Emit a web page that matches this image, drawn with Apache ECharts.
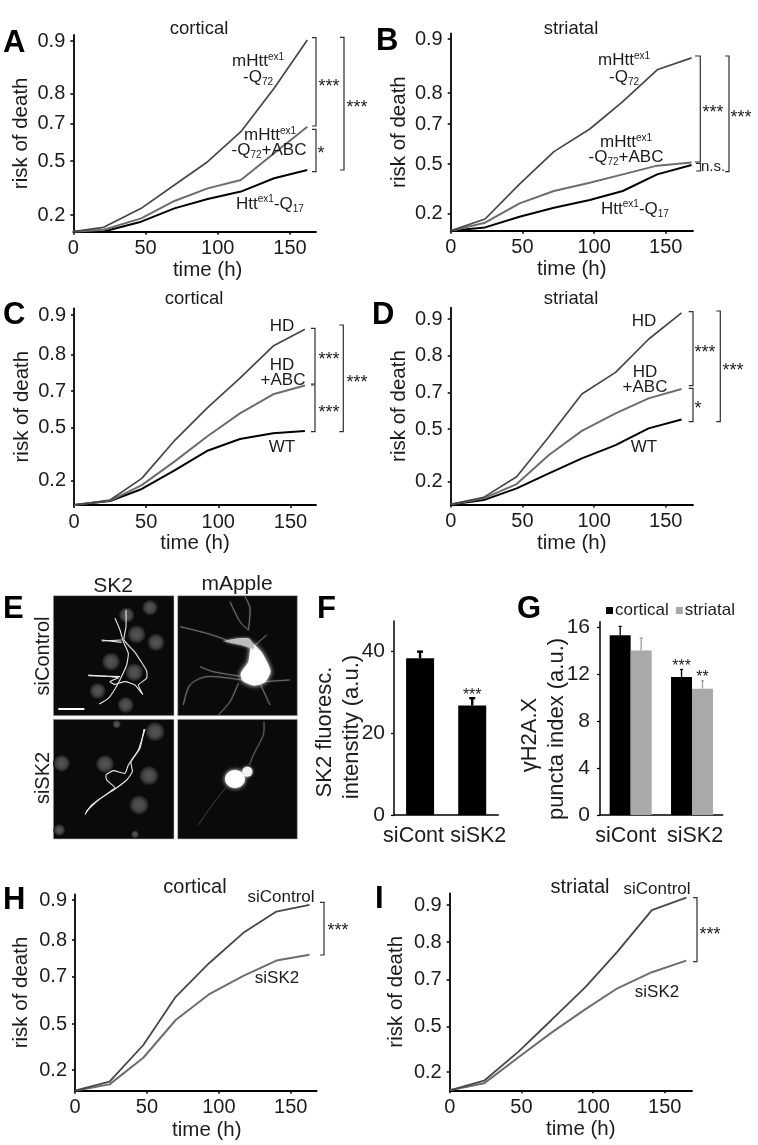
<!DOCTYPE html>
<html><head><meta charset="utf-8">
<script src="https://cdn.jsdelivr.net/npm/echarts@6/dist/echarts.min.js"></script>
<style>html,body{margin:0;padding:0;background:#fff}#c{width:758px;height:1145px}</style>
</head><body><div id="c"></div>
<script>
// ---------- data (risk of death vs time) ----------
const riskTicks = [0.2, 0.5, 0.7, 0.8, 0.9];
const timeTicks = [0, 50, 100, 150];

const timeA = [0, 21, 47, 70, 93, 116, 139, 162];
const a_Q72 = [0, .052, .237, .367, .496, .656, .81, .902];
const a_ABC = [0, .024, .16, .278, .348, .394, .541, .682];
const a_Q17 = [0, .002, .12, .237, .289, .33, .404, .45];

const timeB = [0, 24, 48, 72, 97, 120, 144, 168];
const b_Q72 = [0, .135, .378, .562, .675, .772, .843, .865];
const b_ABC = [0, .092, .261, .336, .386, .437, .49, .508];
const b_Q17 = [0, .038, .162, .234, .281, .336, .437, .494];

const timeC = [0, 25, 47, 70, 92, 115, 138, 160];
const c_HD  = [0, .041, .213, .43, .605, .735, .821, .864];
const c_ABC = [0, .036, .164, .311, .449, .578, .682, .715];
const c_WT  = [0, .033, .132, .26, .368, .436, .468, .481];

const timeD = [0, 23, 46, 68.5, 91.5, 115, 138, 161];
const d_HD  = [0, .062, .228, .456, .693, .755, .845, .917];
const d_ABC = [0, .053, .179, .352, .49, .586, .669, .71];
const d_WT  = [0, .038, .141, .247, .333, .409, .504, .553];

const timeH = [0, 24, 47.5, 70, 93, 117, 140, 163];
const h_ctrl = [0, .087, .363, .615, .736, .818, .871, .888];
const h_sk2  = [0, .061, .28, .517, .625, .702, .744, .76];

const timeI = [0, 24, 48, 71, 95, 117, 141, 165];
const i_ctrl = [0, .105, .335, .528, .669, .774, .886, .92];
const i_sk2  = [0, .076, .297, .46, .575, .662, .719, .75];

const barCats = ['siCont', 'siSK2'];
const f_vals = [38.4, 26.8];
const f_errTop = [40, 28.6];
const f_sig = ['', '***'];
const g_cort = [15.3, 11.75];
const g_cortTop = [16.05, 12.38];
const g_cortSig = ['', '***'];
const g_str = [14.0, 10.75];
const g_strTop = [15.07, 11.42];
const g_strSig = ['', '**'];

// ---------- layout ----------
const FONT = '"Liberation Sans", Arial, sans-serif';
const INK = '#1c1c1c', DARK = '#474747', MID = '#6d6d6d', BLACK = '#000';
// scalePos: axis scale position of each risk tick (the risk axis is non-linear and differs by panel)
const panels = [
 {left:73.3, top:35,  w:242.7, h:196.7, xMax:168, scalePos:[16.7,70.7,108.3,138.3,190.7], title:'cortical', tx:194, ty:24, tf:18.5, xPad:26, xGap:25, yGap:41,
  t:timeA, lines:[['Q17',a_Q17,BLACK,2],['ABC',a_ABC,MID,2],['Q72',a_Q72,DARK,1.7]]},
 {left:450.7,top:33.5,w:242.3,h:197.2, xMax:169, scalePos:[17.3,66.7,106.7,137.7,191.7], title:'striatal', tx:566, ty:24, tf:18.5, xPad:0, xGap:24, yGap:41,
  t:timeB, lines:[['Q17',b_Q17,BLACK,2],['ABC',b_ABC,MID,2],['Q72',b_Q72,DARK,1.7]]},
 {left:74,   top:308.3,w:242,  h:196.7, xMax:167.7,scalePos:[24.3,77.3,114,150.7,190], title:'cortical', tx:189, ty:294, tf:18.5, xPad:0, xGap:28, yGap:41,
  t:timeC, lines:[['WT',c_WT,BLACK,2],['ABC',c_ABC,MID,2],['HD',c_HD,DARK,1.7]]},
 {left:450.7,top:307.7,w:242.3,h:196.7,xMax:169, scalePos:[22.7,75.3,111.7,148.7,185.3], title:'striatal', tx:566, ty:294, tf:18.5, xPad:0, xGap:28, yGap:41,
  t:timeD, lines:[['WT',d_WT,BLACK,2],['ABC',d_ABC,MID,2],['HD',d_HD,DARK,1.7]]},
 {left:75,   top:894.3,w:241.7,h:196.4,xMax:168, scalePos:[20.7,66.7,114,150.7,190.7], title:'cortical', tx:190, ty:882, tf:20, xPad:22, xGap:29, yGap:43,
  t:timeH, lines:[['sk2',h_sk2,MID,2],['ctrl',h_ctrl,DARK,1.8]]},
 {left:449.7,top:893.3,w:242.3,h:197, xMax:169, scalePos:[18.3,63.7,111,148.3,185.3], title:'striatal', tx:575, ty:882, tf:20, xPad:20, xGap:29, yGap:43,
  t:timeI, lines:[['sk2',i_sk2,MID,2],['ctrl',i_ctrl,DARK,1.8]]}
];

function toScale(r, pos){
  const rs=[0].concat(riskTicks), ps=[0].concat(pos);
  for(let k=1;k<rs.length;k++){ if(r<=rs[k]) return ps[k-1]+(r-rs[k-1])/(rs[k]-rs[k-1])*(ps[k]-ps[k-1]); }
  const n=rs.length-1; return ps[n]+(r-rs[n])/(rs[n]-rs[n-1])*(ps[n]-ps[n-1]);
}

const axisLine = w => ({show:true,onZero:false,lineStyle:{color:'#000',width:w}});
const grid=[],xAxis=[],yAxis=[],series=[],title=[];

panels.forEach((p,i)=>{
  grid.push({left:p.left,top:p.top,width:p.w,height:p.h});
  xAxis.push({gridIndex:i,type:'value',min:0,max:p.xMax,splitLine:{show:false},axisLine:axisLine(1.8),
    axisTick:{show:true,length:3,customValues:timeTicks,lineStyle:{color:'#000',width:1.5}},
    axisLabel:{customValues:timeTicks,fontFamily:FONT,fontSize:20,color:INK,margin:7},
    name:'time (h)',nameLocation:'middle',nameGap:p.xGap,
    nameTextStyle:{fontFamily:FONT,fontSize:20.5,color:INK,padding:[0,0,0,p.xPad]}});
  yAxis.push({gridIndex:i,type:'value',min:0,max:p.h,splitLine:{show:false},axisLine:axisLine(1.8),
    axisTick:{show:true,length:3,customValues:p.scalePos,lineStyle:{color:'#000',width:1.5}},
    axisLabel:{customValues:p.scalePos,fontFamily:FONT,fontSize:20,color:INK,margin:8,
      formatter:v=>{const k=p.scalePos.indexOf(v);return k>=0?riskTicks[k].toFixed(1):'';}},
    name:'risk of death',nameLocation:'middle',nameGap:p.yGap,
    nameTextStyle:{fontFamily:FONT,fontSize:20.5,color:INK}});
  p.lines.forEach(l=>series.push({type:'line',name:p.title+l[0],xAxisIndex:i,yAxisIndex:i,showSymbol:false,silent:true,
    data:p.t.map((t,k)=>[t,toScale(l[1][k],p.scalePos)]),lineStyle:{color:l[2],width:l[3]},itemStyle:{color:l[2]}}));
  title.push({text:p.title,left:p.tx,top:p.ty,textAlign:'center',textVerticalAlign:'middle',
    textStyle:{fontFamily:FONT,fontSize:p.tf,fontWeight:'normal',color:INK}});
});

// bar panels F and G
const iF=panels.length, iG=iF+1;
grid.push({left:394,top:621,width:104.3,height:194},{left:600,top:621.7,width:122.7,height:193.3});
[[iF,[{pr:13,pl:0},{pr:0,pl:12}]],[iG,[{pr:10,pl:0},{pr:0,pl:6}]]].forEach(([ix,pads])=>{
  xAxis.push({gridIndex:ix,type:'category',data:barCats,axisLine:axisLine(1.5),axisTick:{show:false},
    axisLabel:{interval:0,margin:10,formatter:(v,k)=>`{${k?'b':'a'}|${v}}`,
      rich:{a:{fontFamily:FONT,fontSize:21.5,color:INK,padding:[0,pads[0].pr,0,0]},
            b:{fontFamily:FONT,fontSize:21.5,color:INK,padding:[0,0,0,pads[1].pl]}}}});
});
yAxis.push({gridIndex:iF,type:'value',min:0,max:47.5,splitLine:{show:false},axisLine:axisLine(1.5),
  axisTick:{show:true,length:3,customValues:[0,20,40],lineStyle:{color:'#000',width:1.2}},
  axisLabel:{customValues:[0,20,40],fontFamily:FONT,fontSize:21,color:INK,margin:9}});
yAxis.push({gridIndex:iG,type:'value',min:0,max:16.45,splitLine:{show:false},axisLine:axisLine(1.5),
  axisTick:{show:true,length:3,customValues:[0,4,8,12,16],lineStyle:{color:'#000',width:1.2}},
  axisLabel:{customValues:[0,4,8,12,16],fontFamily:FONT,fontSize:21,color:INK,margin:10}});

function errSeries(ix,name,vals,tops,sig,dx,color,stem,cap){
  return {type:'custom',name:name+' err',xAxisIndex:ix,yAxisIndex:ix,silent:true,z:1,
    data:vals.map((v,k)=>[k,v,tops[k],sig[k]]),encode:{x:0,y:[1,2]},
    renderItem:(params,api)=>{
      const c=api.coord([api.value(0),api.value(1)]), t=api.coord([api.value(0),api.value(2)]);
      const x=c[0]+dx, st={stroke:color,lineWidth:stem};
      const s=sig[params.dataIndex];
      const kids=[{type:'line',shape:{x1:x,y1:c[1],x2:x,y2:t[1]},style:st},
        {type:'line',shape:{x1:x-cap,y1:t[1],x2:x+cap,y2:t[1]},style:st}];
      if(s) kids.push({type:'text',x:x,y:t[1]+5,style:{text:s,font:'16px '+FONT,fill:INK,align:'center',verticalAlign:'bottom'}});
      return {type:'group',children:kids};
    }};
}
series.push({type:'bar',name:'SK2',xAxisIndex:iF,yAxisIndex:iF,data:f_vals,barWidth:28,itemStyle:{color:'#000'},silent:true});
series.push(errSeries(iF,'SK2',f_vals,f_errTop,f_sig,0,'#000',2.4,3));
series.push({type:'bar',name:'cortical',xAxisIndex:iG,yAxisIndex:iG,data:g_cort,barWidth:21,barGap:'0%',itemStyle:{color:'#000'},silent:true});
series.push({type:'bar',name:'striatal',xAxisIndex:iG,yAxisIndex:iG,data:g_str,barWidth:21,barGap:'0%',itemStyle:{color:'#a9a9a9'},silent:true});
series.push(errSeries(iG,'cortical',g_cort,g_cortTop,g_cortSig,-10.5,'#000',1.3,1.5));
series.push(errSeries(iG,'striatal',g_str,g_strTop,g_strSig,10.5,'#a0a0a0',1.3,1.5));

// ---------- annotations ----------
const g=[];
const RICH={sup:{fontFamily:FONT,fontSize:10,fill:INK,color:INK,verticalAlign:'top',lineHeight:17},
            sub:{fontFamily:FONT,fontSize:10,fill:INK,color:INK,verticalAlign:'bottom',lineHeight:20}};
function txt(s,x,y,size,opt){opt=opt||{};
  g.push({type:'text',x:x,y:y,rotation:opt.rot||0,z:10,silent:true,style:{text:s,font:(opt.weight||'')+' '+size+'px '+FONT,
    fill:opt.fill||INK,align:opt.align||'center',verticalAlign:opt.va||'middle',rich:RICH}});}
const labels=[
 ['mHtt{sup|ex1}',258,61],['-Q{sub|72}',258,77],['mHtt{sup|ex1}',270,135],['-Q{sub|72}+ABC',269,150],['Htt{sup|ex1}-Q{sub|17}',270,204],
 ['mHtt{sup|ex1}',624,60],['-Q{sub|72}',624,77],['mHtt{sup|ex1}',626,142],['-Q{sub|72}+ABC',626,157],['Htt{sup|ex1}-Q{sub|17}',635,209],
 ['HD',282,326],['HD',282,365],['+ABC',283,380],['WT',282,447],
 ['HD',644,321],['HD',645,372],['+ABC',645,387],['WT',644,447],
 ['siControl',281,897],['siSK2',277,978],['siControl',657,889],['siSK2',657,992]];
labels.forEach(l=>txt(l[0],l[1],l[2],17));

// brackets: [x foot, x spine, y top, y bottom] in page px
const brackets=[[312,316,37.7,126],[312,316,129.3,171.7],[340,344,37.3,170],
 [695,700.3,56,162],[696,700.5,163.3,171],[725,729,56,171.7],
 [311,315,328.3,384],[311,315,385,431.7],[339.3,343.3,325,431.7],
 [688.7,693,311.7,385.7],[688.7,693,388.3,421.7],[716.3,720.3,311,421.7],
 [320,324,902.3,955],[693,697,897.7,961.7]];
brackets.forEach(b=>g.push({type:'polyline',silent:true,z:9,shape:{points:[[b[0],b[2]],[b[1],b[2]],[b[1],b[3]],[b[0],b[3]]]},style:{stroke:'#2e2e2e',lineWidth:1.2,fill:null}}));
const stars=[['***',329,83],['*',321,150],['***',357,104],['***',713,109],['***',741,114],
 ['***',329,356],['***',329,409],['***',357,379],['***',705,349],['*',698,405],['***',733,367],
 ['***',338,927],['***',710,931]];
stars.forEach(s=>txt(s[0],s[1],s[2]+4.5,18));
txt('n.s.',713,166.5,15);

// panel letters
[['A',3,28],['B',376,26],['C',3,300],['D',372,300],['E',3,594],['F',317,594],['G',517,594],['H',3,885],['I',375,884]]
 .forEach(l=>txt(l[0],l[1],l[2],31,{weight:'bold',fill:'#000',align:'left',va:'alphabetic'}));

// F / G y titles
txt('SK2 fluoresc.',325,732,22,{rot:Math.PI/2});
txt('intenstity (a.u.)',352,727,22,{rot:Math.PI/2});
txt('γH2A.X',530,735,22,{rot:Math.PI/2});
txt('puncta index (a.u.)',557,729,22,{rot:Math.PI/2});

// panel E : micrographs sketched with graphic shapes
const Z=(x,y)=>[x/3,565+y/3];
[[160,92,522,452],[533,92,892,452],[160,463,522,822],[533,463,892,822]].forEach(r=>{
  const a=Z(r[0],r[1]),b=Z(r[2],r[3]);
  g.push({type:'rect',silent:true,z:1,shape:{x:a[0],y:a[1],width:b[0]-a[0],height:b[1]-a[1]},style:{fill:'#0a0a0a',stroke:'#bbb',lineWidth:.6}});
});
const nuclei=[[450,128,24],[380,150,24],[410,208,28],[468,232,27],[333,290,28],[403,322,28],[293,378,25],[377,420,25],
 [465,500,30],[315,597,28],[447,632,30],[417,720,30],[185,595,26],[178,795,18],[350,478,13],[405,808,12]];
nuclei.forEach(n=>{const c=Z(n[0],n[1]);
  g.push({type:'circle',silent:true,z:2,shape:{cx:c[0],cy:c[1],r:n[2]/3},style:{fill:new echarts.graphic.RadialGradient(.5,.5,.5,
    [{offset:0,color:'#575757'},{offset:.55,color:'#474747'},{offset:.85,color:'#262626'},{offset:1,color:'#0a0a0a'}])}});});
const pl=(pts,color,w,blur,smooth)=>g.push({type:'polyline',silent:true,z:3,shape:{points:pts.map(p=>Z(p[0],p[1])),smooth:smooth||0},
  style:{stroke:color,lineWidth:w,fill:null,shadowBlur:blur||0,shadowColor:color}});
const outline=[
 [[298,417],[325,400],[345,372],[362,340],[380,300],[385,265],[370,230],[360,195],[345,160]],
 [[378,135],[378,185],[372,225],[405,262],[440,318],[440,340],[415,360],[428,388],[405,360],[375,350],[345,358],[330,350],[355,338],[265,330]],
 [[305,225],[365,232]],[[305,228],[365,225]],[[265,332],[360,335]],
 [[255,748],[275,720],[330,680],[345,668],[320,645],[318,630],[340,617],[375,625],[385,600],[415,555],[435,492]],
 [[258,740],[295,705],[345,672],[380,645],[397,620],[393,590],[420,550],[432,492]]];
outline.forEach(o=>pl(o,'#e8e8e8',1.1,0,.15));
const sb=[Z(175,432),Z(253,432)];
g.push({type:'line',silent:true,z:3,shape:{x1:sb[0][0],y1:sb[0][1],x2:sb[1][0],y2:sb[1][1]},style:{stroke:'#fff',lineWidth:2}});
const dendrites=[[[745,235],[700,228],[670,228]],[[745,195],[750,130],[735,95]],[[745,195],[720,170],[690,110]],[[680,225],[620,205],[540,185]],
 [[730,335],[640,320],[600,305]],[[725,345],[620,335],[570,360],[550,420]],[[715,355],[690,410],[655,450]],[[780,355],[810,420]],[[790,350],[870,345]],[[760,245],[800,210]],
 [[748,600],[765,560],[790,510],[792,470]],[[680,665],[640,715],[595,780]]];
dendrites.forEach((d,k)=>pl(d,k===11?'#3a3a3a':(k===10?'#6a6a6a':'#7c7c7c'),.8,1.5,.3));
g.push({type:'polygon',silent:true,z:3,shape:{smooth:.2,points:[[722,325],[745,290],[755,235],[785,262],[812,318],[795,352],[762,362],[728,348]].map(p=>Z(p[0],p[1]))},style:{fill:'#fff',shadowBlur:5,shadowColor:'#fff'}});
g.push({type:'polygon',silent:true,z:3,shape:{smooth:.3,points:[[675,228],[745,220],[762,250],[730,242]].map(p=>Z(p[0],p[1]))},style:{fill:'#bdbdbd',shadowBlur:3,shadowColor:'#bbb'}});
let c1=Z(705,642),c2=Z(742,620);
g.push({type:'ellipse',silent:true,z:3,shape:{cx:c1[0],cy:c1[1],rx:10,ry:9},style:{fill:'#fff',shadowBlur:4,shadowColor:'#fff'}});
g.push({type:'circle',silent:true,z:3,shape:{cx:c2[0],cy:c2[1],r:5},style:{fill:'#f2f2f2',shadowBlur:3,shadowColor:'#fff'}});
txt('SK2',113,586,21); txt('mApple',237,584,21);
txt('siControl',43,656,20,{rot:Math.PI/2}); txt('siSK2',43,778,20,{rot:Math.PI/2});

const chart=echarts.init(document.getElementById('c'),null,{renderer:'canvas',width:758,height:1145});
chart.setOption({animation:false,backgroundColor:'#fff',title,grid,xAxis,yAxis,series,graphic:g,
  legend:{left:601,top:597,data:['cortical','striatal'],itemWidth:7,itemHeight:7,itemGap:7,icon:'rect',
    textStyle:{fontFamily:FONT,fontSize:17,color:INK,padding:[0,0,0,-3]}},tooltip:{show:false}});
</script></body></html>
